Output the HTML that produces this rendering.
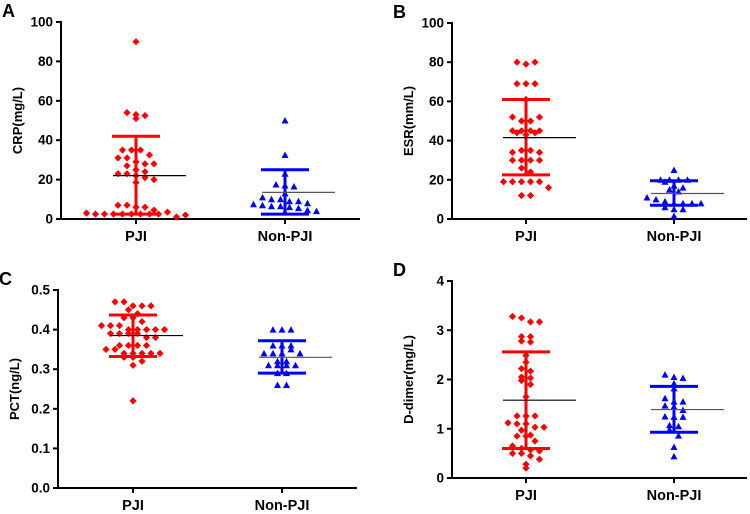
<!DOCTYPE html>
<html><head><meta charset="utf-8">
<style>
html,body{margin:0;padding:0;background:#fff;}
svg{display:block;font-family:"Liberation Sans",Arial,sans-serif;}
</style></head>
<body>
<svg id="chart" width="750" height="514" viewBox="0 0 750 514" xmlns="http://www.w3.org/2000/svg"></svg>
<script>
const categories = ["PJI", "Non-PJI"];
// Panel A: CRP
const crpPJI = [90,54,53,52.5,51,35,35,35,32.5,31,31,29,28,28,27,25,24,23,23,22,21,20,18.5,7,7,6,6,4.5,3,2.5,2.5,2.5,2.5,2.5,2.5,2.5,2.5,3.5,1,2];
const crpNon = [50,32.5,23,17.5,17,16.5,13,11,10,10,9,9,8,7.5,7,6.5,6.5,6,5.5,4.5,4,3.5];
const crpMean = [22,13.5], crpUpper = [42,25], crpLower = [2.5,2.5];
const crpTicks = [0,20,40,60,80,100];
// Panel B: ESR
const esrPJI = [80,79,80,69,69,69,61,52,50,50,52,45,45,44,43,44,45,45,34,35,35,34,30,30,30,30,26,24,19,19,19,19,19,16,12,12];
const esrNon = [25,20,20,19,20,20,17,16,15,14,11,10,9,8,8,8,8,6,5,5,1.5];
const esrMean = [41.5,13], esrUpper = [61,19.5], esrLower = [22.5,7];
const esrTicks = [0,20,40,60,80,100];
// Panel C: PCT
const pctPJI = [.47,.47,.46,.46,.46,.45,.44,.43,.43,.42,.41,.41,.41,.40,.40,.40,.40,.40,.39,.39,.39,.39,.38,.38,.36,.36,.36,.36,.35,.35,.34,.34,.34,.34,.34,.33,.33,.32,.31,.22];
const pctNon = [.40,.40,.40,.36,.36,.36,.34,.34,.34,.35,.34,.32,.32,.31,.31,.31,.31,.29,.29,.26,.26];
const pctMean = [.385,.33], pctUpper = [.437,.372], pctLower = [.332,.29];
const pctTicks = [0,0.1,0.2,0.3,0.4,0.5];
// Panel D: D-dimer
const ddPJI = [3.28,3.25,3.17,3.17,2.87,2.87,2.78,2.76,2.49,2.35,2.22,2.17,2.05,2.03,1.98,1.9,1.65,1.26,1.26,1.26,1.12,1.10,1.10,1.03,1.03,0.97,0.87,0.85,0.85,0.75,0.65,0.6,0.57,0.55,0.5,0.5,0.45,0.38,0.28,0.2];
const ddNon = [2.1,2.05,2.03,1.92,1.82,1.62,1.55,1.55,1.47,1.45,1.38,1.25,1.24,1.24,1.07,1.05,0.98,0.86,0.63,0.44];
const ddMean = [1.58,1.39], ddUpper = [2.56,1.86], ddLower = [0.6,0.93];
const ddTicks = [0,1,2,3,4];

const NS = "http://www.w3.org/2000/svg";
const svg = document.getElementById("chart");
function mk(tag, attrs, parent){
  const e = document.createElementNS(NS, tag);
  for (const k in attrs) e.setAttribute(k, attrs[k]);
  (parent||svg).appendChild(e);
  return e;
}

function panel(cfg){
  const g = mk("g", {});
  
  
  const y = v => cfg.y0 - (v - cfg.min) / (cfg.max - cfg.min) * (cfg.y0 - cfg.yTop);
  const xc = i => cfg.ax + cfg.off + i * cfg.gap;
  const L = mk("text", {x: cfg.ax - 59, y: cfg.yTop - 5, "font-size": 18, "font-weight": "bold"}, g);
  L.textContent = cfg.letter;
  
  
  const ya = mk("line", {x1: cfg.ax, y1: cfg.yTop - 1, x2: cfg.ax, y2: cfg.y0 + 1, stroke: "#000", "stroke-width": 2}, g);
  
  
  const xa = mk("line", {x1: cfg.ax - 1, y1: cfg.y0, x2: cfg.xEnd, y2: cfg.y0, stroke: "#000", "stroke-width": 2}, g);
  
  
  cfg.ticks.forEach(t => {
    const ty = y(t);
    const tl = mk("line", {x1: cfg.ax - 5, y1: ty, x2: cfg.ax, y2: ty, stroke: "#000", "stroke-width": 2}, g);
    
    
    const tx = mk("text", {x: cfg.ax - 8, y: ty + 4.5, "font-size": 13.5, "font-weight": "bold", "text-anchor": "end"}, g);
    tx.textContent = cfg.fmt(t);
    
    
  });
  const yt = mk("text", {x: 0, y: 0, "font-size": 13, "font-weight": "bold", "text-anchor": "middle",
    transform: `translate(${cfg.ax - 39},${(cfg.yTop + cfg.y0) / 2}) rotate(-90)`}, g);
  yt.textContent = cfg.title;
  
  
  categories.forEach((c, i) => {
    const tk = mk("line", {x1: xc(i), y1: cfg.y0, x2: xc(i), y2: cfg.y0 + 5, stroke: "#000", "stroke-width": 2}, g);
    
    
    const cl = mk("text", {x: xc(i), y: cfg.y0 + 22, "font-size": 14.5, "font-weight": "bold", "text-anchor": "middle"}, g);
    cl.textContent = c;
    
    
  });
  const colors = ["#ff0000", "#0000ff"];
  [cfg.a, cfg.b].forEach((vals, i) => {
    const cx = xc(i);
    const eb = mk("g", {stroke: colors[i], "stroke-width": 3}, g);
    
    
    mk("line", {x1: cx, y1: y(cfg.up[i]), x2: cx, y2: y(cfg.lo[i])}, eb);
    mk("line", {x1: cx - 24, y1: y(cfg.up[i]), x2: cx + 24, y2: y(cfg.up[i])}, eb);
    mk("line", {x1: cx - 24, y1: y(cfg.lo[i]), x2: cx + 24, y2: y(cfg.lo[i])}, eb);
    const bins = {};
    vals.forEach(v => { const k = Math.round(y(v) / 8); (bins[k] = bins[k] || []).push(v); });
    Object.keys(bins).forEach(k => {
      const arr = bins[k];
      arr.forEach((v, j) => {
        const px = cx + (j - (arr.length - 1) / 2) * 9;
        const py = y(v);
        let m;
        if (i === 0) {
          m = mk("path", {d: `M${px},${py - 3.6}L${px + 3.6},${py}L${px},${py + 3.6}L${px - 3.6},${py}Z`, fill: colors[0]}, g);
          
        } else {
          m = mk("path", {d: `M${px},${py - 3.5}L${px + 3.5},${py + 3}L${px - 3.5},${py + 3}Z`, fill: colors[1]}, g);
          
        }
        
      });
    });
    const ml = mk("line", {x1: cx - 23, y1: y(cfg.mean[i]), x2: cx + 50, y2: y(cfg.mean[i]), stroke: i ? "#555" : "#000", "stroke-width": 1.2}, g);
    
    
  });
}

panel({letter: "A", title: "CRP(mg/L)", ax: 61, yTop: 22, y0: 219, min: 0, max: 100, off: 75, gap: 149, xEnd: 360,
  ticks: crpTicks, fmt: t => String(t), a: crpPJI, b: crpNon, mean: crpMean, up: crpUpper, lo: crpLower});
panel({letter: "B", title: "ESR(mm/L)", ax: 452, yTop: 23, y0: 219, min: 0, max: 100, off: 74, gap: 148, xEnd: 747,
  ticks: esrTicks, fmt: t => String(t), a: esrPJI, b: esrNon, mean: esrMean, up: esrUpper, lo: esrLower});
panel({letter: "C", title: "PCT(ng/L)", ax: 58, yTop: 290, y0: 488, min: 0, max: 0.5, off: 75, gap: 149, xEnd: 357,
  ticks: pctTicks, fmt: t => t.toFixed(1), a: pctPJI, b: pctNon, mean: pctMean, up: pctUpper, lo: pctLower});
panel({letter: "D", title: "D-dimer(mg/L)", ax: 452, yTop: 281, y0: 478, min: 0, max: 4, off: 74, gap: 148, xEnd: 747,
  ticks: ddTicks, fmt: t => String(t), a: ddPJI, b: ddNon, mean: ddMean, up: ddUpper, lo: ddLower});
</script>
</body></html>
